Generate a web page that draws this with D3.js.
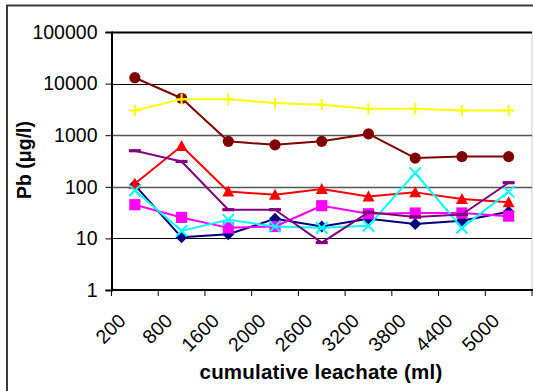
<!DOCTYPE html>
<html>
<head>
<meta charset="utf-8">
<script src="https://cdn.jsdelivr.net/npm/d3@7/dist/d3.min.js"></script>
<style>
  html, body { margin: 0; padding: 0; background: #fff; }
  svg { display: block; }
  text { font-family: "Liberation Sans", Arial, sans-serif; fill: #000; }
</style>
</head>
<body>
<svg id="chart" width="533" height="391"></svg>
<script>
// Cumulative leachate volumes (ml) along the x axis
const categories = ["200", "800", "1600", "2000", "2600", "3200", "3800", "4400", "5000"];

// Pb concentration (µg/l) per column, one array per series
const navyDiamond   = [108, 10.5, 12, 24, 17, 24, 19, 22, 33];
const magentaSquare = [45, 25.5, 16, 17, 43, 30, 31, 31, 27];
const redTriangle   = [115, 620, 81, 70, 91, 65, 78, 58, 50];
const cyanCross     = [85, 14, 23, 17, 16, 17.5, 185, 16, 80];
const purpleDash    = [500, 310, 36, 36, 8.3, 32, 26, 29, 120];
const maroonCircle  = [13000, 5200, 760, 650, 760, 1060, 360, 385, 385];
const yellowPlus    = [3000, 5000, 5000, 4200, 3900, 3250, 3250, 3000, 3000];

const yTicks = [1, 10, 100, 1000, 10000, 100000];

const series = [
  { values: navyDiamond,   color: "#000080", marker: "diamond" },
  { values: magentaSquare, color: "#FF00FF", marker: "square" },
  { values: redTriangle,   color: "#FF0000", marker: "triangle" },
  { values: cyanCross,     color: "#00FFFF", marker: "x" },
  { values: purpleDash,    color: "#800080", marker: "dash" },
  { values: maroonCircle,  color: "#800000", marker: "circle" },
  { values: yellowPlus,    color: "#FFFF00", marker: "plus" }
];

const svg = d3.select("#chart");

const plot = { left: 111.5, right: 532, top: 32, bottom: 290 };

const x = d3.scaleBand().domain(categories).range([plot.left, plot.right]).padding(0);
const y = d3.scaleLog().domain([1, 100000]).range([plot.bottom, plot.top]);
const cx = c => x(c) + x.bandwidth() / 2;
const crisp = v => Math.round(v) + 0.5;

// outer chart frame
svg.append("rect")
  .attr("x", 7).attr("y", 5.5).attr("width", 560).attr("height", 420)
  .attr("fill", "none").attr("stroke", "#3a3a3a").attr("stroke-width", 2);

// plot area right border
svg.append("line")
  .attr("x1", plot.right).attr("x2", plot.right)
  .attr("y1", plot.top).attr("y2", plot.bottom)
  .attr("stroke", "#c8c8c8").attr("stroke-width", 1);

// horizontal gridlines at each decade
svg.append("g").selectAll("line").data(yTicks.slice(1)).join("line")
  .attr("x1", plot.left).attr("x2", plot.right)
  .attr("y1", d => crisp(y(d))).attr("y2", d => crisp(y(d)))
  .attr("stroke", d => (d === 100 || d === 1000) ? "#555" : "#000")
  .attr("stroke-width", d => d === 100000 ? 2 : (d === 100 || d === 1000) ? 1.6 : 1);

// y axis
const yAxis = svg.append("g")
  .attr("transform", `translate(${plot.left},0)`)
  .call(d3.axisLeft(y).tickValues(yTicks).tickFormat(d3.format("d")).tickSize(6).tickPadding(8));
yAxis.select(".domain").attr("stroke", "#000").attr("stroke-width", 2);
yAxis.selectAll(".tick line").attr("stroke", "#000").attr("stroke-width", 1);
yAxis.selectAll(".tick text")
  .style("font-family", "'Liberation Sans', Arial, sans-serif")
  .style("font-size", "19.5px").attr("fill", "#000");

// x axis: ticks between categories, rotated labels under each category
const xAxisG = svg.append("g").attr("transform", `translate(0,${plot.bottom})`);
xAxisG.append("line")
  .attr("x1", plot.left).attr("x2", 533)
  .attr("stroke", "#000").attr("stroke-width", 2);
const bounds = categories.map(c => x(c)).concat([plot.right]);
xAxisG.selectAll("line.tk").data(bounds).join("line")
  .attr("class", "tk")
  .attr("x1", d => d).attr("x2", d => d).attr("y1", 0).attr("y2", 6)
  .attr("stroke", "#000").attr("stroke-width", 1);
xAxisG.selectAll("text").data(categories).join("text")
  .attr("transform", d => `translate(${cx(d) - 8},32) rotate(-45)`)
  .attr("text-anchor", "end")
  .style("font-size", "19.5px")
  .text(d => d);

// axis titles
svg.append("text")
  .attr("x", 321).attr("y", 379)
  .attr("text-anchor", "middle")
  .style("font-size", "20.5px").style("font-weight", "bold")
  .style("letter-spacing", "0.2px")
  .text("cumulative leachate (ml)");

svg.append("text")
  .attr("transform", "translate(31,160) rotate(-90)")
  .attr("text-anchor", "middle")
  .style("font-size", "19.5px").style("font-weight", "bold")
  .text("Pb (μg/l)");

// marker shapes
function drawMarker(g, type, color, px, py) {
  const s = 5.6;
  if (type === "circle") {
    g.append("circle").attr("cx", px).attr("cy", py).attr("r", s).attr("fill", color);
  } else if (type === "square") {
    g.append("rect").attr("x", px - s).attr("y", py - s).attr("width", 2 * s).attr("height", 2 * s).attr("fill", color);
  } else if (type === "diamond") {
    g.append("path").attr("d", `M${px},${py - 6}L${px + 6},${py}L${px},${py + 6}L${px - 6},${py}Z`).attr("fill", color);
  } else if (type === "triangle") {
    g.append("path").attr("d", `M${px},${py - 6}L${px + 6},${py + 5}L${px - 6},${py + 5}Z`).attr("fill", color);
  } else if (type === "dash") {
    g.append("rect").attr("x", px - 6).attr("y", py - 1.6).attr("width", 12).attr("height", 3.2).attr("fill", color);
  } else if (type === "plus") {
    g.append("path").attr("d", `M${px - s},${py}H${px + s}M${px},${py - s}V${py + s}`)
      .attr("stroke", color).attr("stroke-width", 2).attr("fill", "none");
  } else if (type === "x") {
    g.append("path").attr("d", `M${px - s},${py - s}L${px + s},${py + s}M${px - s},${py + s}L${px + s},${py - s}`)
      .attr("stroke", color).attr("stroke-width", 2).attr("fill", "none");
  }
}

const line = d3.line().x((d, i) => cx(categories[i])).y(d => y(d));

series.forEach(s => {
  const g = svg.append("g");
  g.append("path").datum(s.values)
    .attr("d", line)
    .attr("fill", "none").attr("stroke", s.color).attr("stroke-width", 2)
    .attr("stroke-linejoin", "round");
  s.values.forEach((v, i) => drawMarker(g, s.marker, s.color, cx(categories[i]), y(v)));
});
</script>
</body>
</html>
